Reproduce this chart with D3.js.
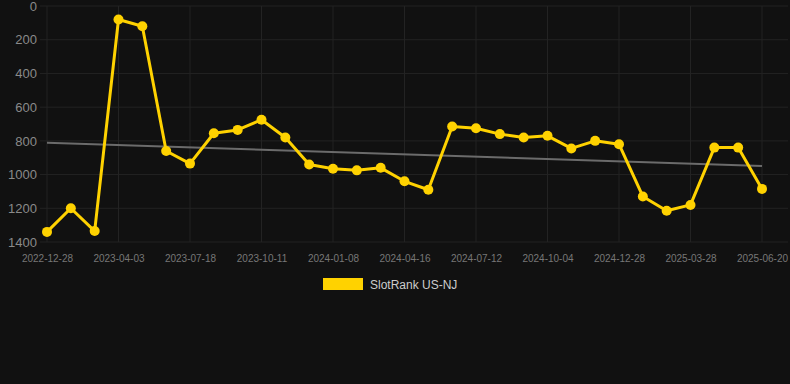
<!DOCTYPE html>
<html>
<head>
<meta charset="utf-8">
<script src="https://cdn.jsdelivr.net/npm/d3@7"></script>
<style>
  html, body { margin: 0; padding: 0; background: #111111; }
  svg { display: block; font-family: "Liberation Sans", Arial, sans-serif; }
</style>
</head>
<body>
<div id="vis"></div>
<script>
// category dates (one per point); labels shown every third point
var dates = [
  '2022-12-28', '2023-01-30', '2023-03-02', '2023-04-03', '2023-05-08', '2023-06-12',
  '2023-07-18', '2023-08-15', '2023-09-13', '2023-10-11', '2023-11-09', '2023-12-10',
  '2024-01-08', '2024-02-10', '2024-03-14', '2024-04-16', '2024-05-15', '2024-06-13',
  '2024-07-12', '2024-08-08', '2024-09-06', '2024-10-04', '2024-11-01', '2024-11-30',
  '2024-12-28', '2025-01-27', '2025-02-26', '2025-03-28', '2025-04-25', '2025-05-23',
  '2025-06-20'
];

// rank values (lower is better, axis is inverted)
var ranks = [
  1340, 1200, 1335, 80, 120, 860,
  935, 755, 735, 675, 780, 940,
  965, 975, 960, 1040, 1090, 715,
  725, 760, 780, 770, 845, 800,
  820, 1130, 1215, 1180, 840, 840,
  1085
];

var yTicks = [0, 200, 400, 600, 800, 1000, 1200, 1400];
var seriesName = 'SlotRank US-NJ';

var width = 790;
var height = 384;
var gridLeft = 40, gridRight = 788;
var plotTop = 6, plotBottom = 242;

var svg = d3.select('#vis').append('svg')
  .attr('width', width)
  .attr('height', height);

svg.append('rect').attr('width', width).attr('height', height).attr('fill', '#111111');

var x = d3.scalePoint().domain(dates).range([47, 762]);
var y = d3.scaleLinear().domain([0, 1400]).range([plotTop, plotBottom]);

// horizontal grid
svg.append('g').selectAll('line')
  .data(yTicks)
  .enter().append('line')
  .attr('x1', gridLeft).attr('x2', gridRight)
  .attr('y1', function (d) { return y(d); })
  .attr('y2', function (d) { return y(d); })
  .attr('stroke', '#232323').attr('stroke-width', 1);

// vertical grid at labelled dates
var labelDates = dates.filter(function (d, i) { return i % 3 === 0; });
svg.append('g').selectAll('line')
  .data(labelDates)
  .enter().append('line')
  .attr('x1', function (d) { return x(d); })
  .attr('x2', function (d) { return x(d); })
  .attr('y1', plotTop).attr('y2', plotBottom)
  .attr('stroke', '#232323').attr('stroke-width', 1);

// y axis labels
var yAxis = d3.axisLeft(y).tickValues(yTicks).tickFormat(d3.format('d')).tickSize(0).tickPadding(0);
var gy = svg.append('g').attr('transform', 'translate(37,0)').call(yAxis);
gy.select('.domain').remove();
gy.selectAll('text').attr('fill', '#8a8a8a').attr('font-size', 13)
  .attr('font-family', '"Liberation Sans", Arial, sans-serif');

// x axis labels
var xAxis = d3.axisBottom(x).tickValues(labelDates).tickSize(0).tickPadding(0);
var gx = svg.append('g').attr('transform', 'translate(0,' + (plotBottom + 13) + ')').call(xAxis);
gx.select('.domain').remove();
gx.selectAll('text').attr('fill', '#777777').attr('font-size', 10)
  .attr('font-family', '"Liberation Sans", Arial, sans-serif');

// linear trend line (least squares on index)
var n = ranks.length;
var mx = d3.mean(ranks, function (d, i) { return i; });
var my = d3.mean(ranks);
var sxy = d3.sum(ranks, function (d, i) { return (i - mx) * (d - my); });
var sxx = d3.sum(ranks, function (d, i) { return (i - mx) * (i - mx); });
var slope = sxy / sxx;
var icpt = my - slope * mx;
svg.append('line')
  .attr('x1', x(dates[0])).attr('y1', y(icpt))
  .attr('x2', x(dates[n - 1])).attr('y2', y(icpt + slope * (n - 1)))
  .attr('stroke', '#6b6b6b').attr('stroke-width', 2);

// series line
var line = d3.line()
  .x(function (d, i) { return x(dates[i]); })
  .y(function (d) { return y(d); });

svg.append('path')
  .datum(ranks)
  .attr('fill', 'none')
  .attr('stroke', '#FFD200')
  .attr('stroke-width', 3)
  .attr('stroke-linejoin', 'round')
  .attr('d', line);

svg.append('g').selectAll('circle')
  .data(ranks)
  .enter().append('circle')
  .attr('cx', function (d, i) { return x(dates[i]); })
  .attr('cy', function (d) { return y(d); })
  .attr('r', 5)
  .attr('fill', '#FFD200');

// legend
var legend = svg.append('g').attr('transform', 'translate(323,278)');
legend.append('rect').attr('width', 40).attr('height', 12).attr('fill', '#FFD200');
legend.append('text')
  .attr('x', 47).attr('y', 10.5)
  .attr('fill', '#cccccc').attr('font-size', 12)
  .text(seriesName);
</script>
</body>
</html>
